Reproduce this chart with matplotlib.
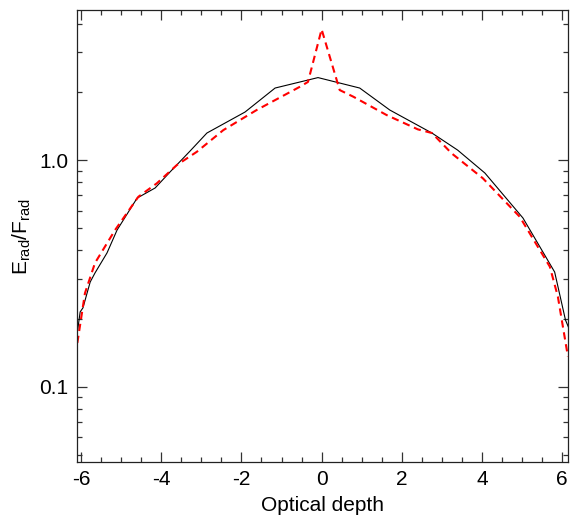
import numpy as np
import matplotlib.pyplot as plt
from matplotlib.ticker import FixedLocator, FixedFormatter, MultipleLocator, LogLocator, NullFormatter

plt.rcParams['font.family'] = ['Liberation Sans', 'DejaVu Sans']
plt.rcParams['mathtext.fontset'] = 'custom'
plt.rcParams['mathtext.rm'] = 'Liberation Sans'
plt.rcParams['mathtext.it'] = 'Liberation Sans'
plt.rcParams['axes.unicode_minus'] = False

# solid black curve
tau_a = [-6.09, -6.02, -5.95, -5.77, -5.65, -5.35, -5.10, -4.60, -4.15, -3.78, -3.28,
         -2.86, -1.91, -1.16, -0.09, 0.95, 1.70, 2.75, 3.39, 4.07, 5.02, 5.81, 6.08, 6.15]
ratio_a = [0.174, 0.214, 0.223, 0.290, 0.318, 0.390, 0.492, 0.681, 0.755, 0.888, 1.099,
           1.32, 1.634, 2.086, 2.32, 2.086, 1.668, 1.32, 1.11, 0.879, 0.556, 0.321, 0.197, 0.184]

# dashed red curve
tau_b = [-6.09, -5.90, -5.65, -5.15, -4.57, -4.11, -3.61, -3.11, -2.45, -1.62, -0.54,
         -0.34, 0.0, 0.45, 0.79, 1.62, 2.40, 2.75, 3.24, 4.02, 4.94, 5.69, 5.89, 6.14]
ratio_b = [0.156, 0.259, 0.352, 0.492, 0.69, 0.791, 0.953, 1.091, 1.36, 1.668, 2.114,
           2.22, 3.79, 2.044, 1.91, 1.585, 1.37, 1.32, 1.074, 0.833, 0.563, 0.339, 0.25, 0.136]

fig = plt.figure(figsize=(5.7, 5.15), dpi=100)
ax = fig.add_axes([0.135, 0.103, 0.862, 0.877])

ax.plot(tau_a, ratio_a, color='black', lw=0.8)
ax.plot(tau_b, ratio_b, color='red', lw=1.5, dashes=(3.5, 2.3))

ax.set_yscale('log')
ax.set_xlim(-6.1, 6.15)
ax.set_ylim(0.0465, 4.6)

ax.xaxis.set_major_locator(MultipleLocator(2))
ax.xaxis.set_minor_locator(MultipleLocator(0.5))
ax.yaxis.set_major_locator(FixedLocator([0.1, 1.0]))
ax.yaxis.set_major_formatter(FixedFormatter(['0.1', '1.0']))
ax.yaxis.set_minor_locator(LogLocator(base=10, subs=np.arange(2, 10)))
ax.yaxis.set_minor_formatter(NullFormatter())

ax.tick_params(which='both', direction='in', top=True, right=True, labelsize=15, color='#333333')
ax.tick_params(which='major', length=7, width=0.9, pad=6)
ax.tick_params(which='minor', length=3.5, width=0.9)
for s in ax.spines.values():
    s.set_linewidth(0.9)
    s.set_color('#222222')

ax.set_xlabel('Optical depth', fontsize=15, labelpad=5)
ax.set_ylabel(r'E$_{\rm rad}$/F$_{\rm rad}$', fontsize=15, labelpad=5)

fig.savefig('out.png', dpi=100)
